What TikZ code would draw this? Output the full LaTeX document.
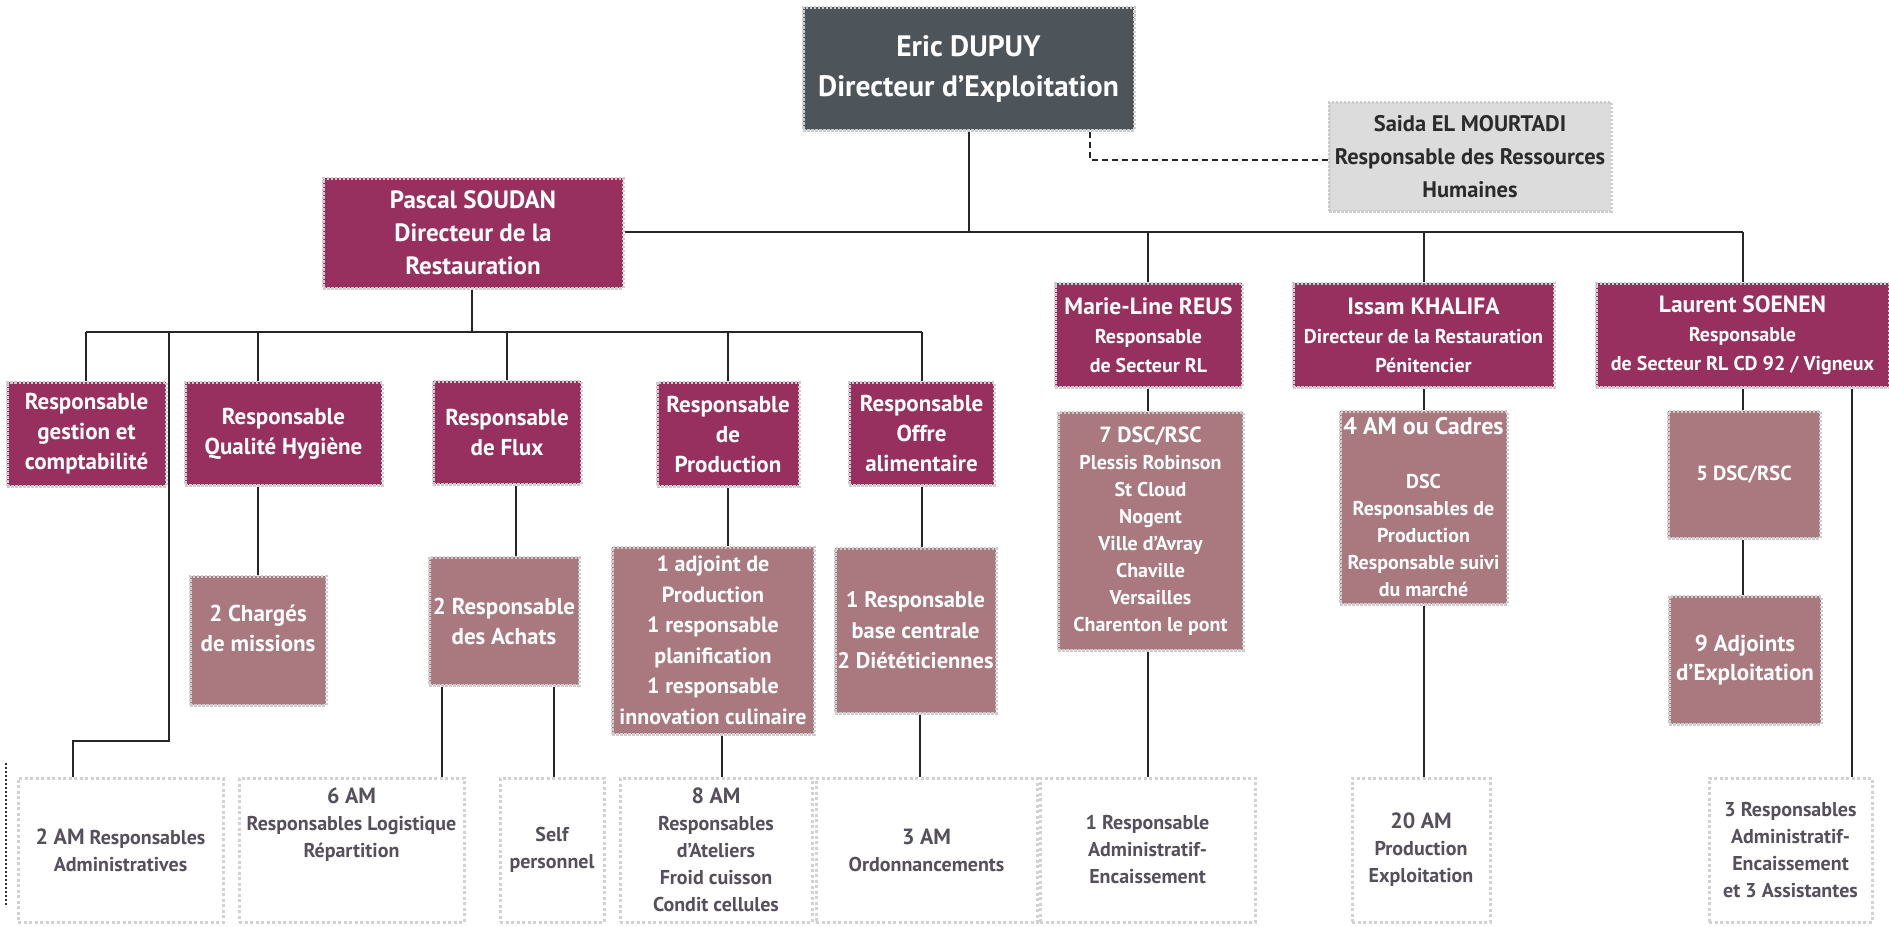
\documentclass[tikz,border=0pt]{standalone}
\usepackage{fontspec}
\setmainfont{PT Sans}
\definecolor{topgray}{HTML}{4D545A}
\definecolor{mag}{HTML}{97305F}
\definecolor{rosec}{HTML}{A9797F}
\definecolor{hrgray}{HTML}{DCDCDC}
\definecolor{hrtext}{HTML}{2B2B2B}
\definecolor{bordergray}{HTML}{CDCDCD}
\definecolor{leafborder}{HTML}{D2D2D2}
\definecolor{leaftext}{HTML}{55505C}
\begin{document}
\begin{tikzpicture}[x=1pt,y=-1pt,
  box/.style={draw=bordergray, line width=3pt, dash pattern=on 2.5pt off 1.5pt, inner sep=0pt, align=center, text=white},
  darkbox/.style={box, fill=topgray},
  magbox/.style={box, fill=mag},
  rosebox/.style={box, fill=rosec},
  palebox/.style={box, fill=hrgray, text=hrtext},
  leafbox/.style={box, fill=white, draw=leafborder, text=leaftext, dash pattern=on 3pt off 2.5pt},
  sz/.style 2 args={minimum width=#1pt, minimum height=#2pt},
  fs/.style 2 args={font=\fontsize{#1}{#2}\selectfont\bfseries},
  conn/.style={draw=black!85, line width=1.5pt},
  dconn/.style={draw=black!85, line width=1.5pt, dash pattern=on 6pt off 4pt},
]
\useasboundingbox (0,0) rectangle (1889,926);

% --- top level
\node[darkbox, sz={331}{123}, fs={29.5}{40}] (eric) at (968.5,68.5) {Eric DUPUY\\Directeur d’Exploitation};
\node[palebox, sz={282}{109}, fs={22.5}{33}] (saida) at (1470,156.5) {Saida EL MOURTADI\\Responsable des Ressources\\Humaines};
\node[magbox, sz={300}{110}, fs={25}{33}] (pascal) at (473,233) {Pascal SOUDAN\\Directeur de la\\Restauration};

% --- right level 2
\node[magbox, sz={187}{104}, fs={20}{29}] (marie) at (1148.5,335) {{\fontsize{23.5}{29}\selectfont Marie-Line REUS}\\Responsable\\de Secteur RL};
\node[magbox, sz={261}{104}, fs={20}{29}] (issam) at (1423.5,335) {{\fontsize{23.5}{29}\selectfont Issam KHALIFA}\\Directeur de la Restauration\\Pénitencier};
\node[magbox, sz={293}{104}, fs={20}{29}] (laurent) at (1742.5,335) {{\fontsize{23.5}{29}\selectfont Laurent SOENEN}\\Responsable\\de Secteur RL CD 92 / Vigneux};

% --- left level 2
\node[magbox, sz={159}{104}, fs={23}{30}] (gestion) at (86.5,434) {Responsable\\gestion et\\comptabilité};
\node[magbox, sz={197}{103}, fs={23}{30}] (qualite) at (283.5,433.5) {Responsable\\Qualité Hygiène};
\node[magbox, sz={148}{103}, fs={23}{30}] (flux) at (507,432.5) {Responsable\\de Flux};
\node[magbox, sz={142}{104}, fs={23}{30}] (prod) at (728,434) {Responsable\\de\\Production};
\node[magbox, sz={145}{103}, fs={23}{30}] (offre) at (921.5,433.5) {Responsable\\Offre\\alimentaire};

% --- left level 3
\node[rosebox, sz={136}{129}, fs={23}{30}] (charges) at (258,640.5) {2 Chargés\\de missions\\[-6pt]\mbox{}};
\node[rosebox, sz={150}{128}, fs={23}{30}] (achats) at (504,621) {2 Responsable\\des Achats};
\node[rosebox, sz={202}{187}, fs={22}{30.5}] (adjoint) at (713,640.5) {1 adjoint de\\Production\\1 responsable\\planification\\1 responsable\\innovation culinaire};
\node[rosebox, sz={161}{165}, fs={22.5}{30.5}] (base) at (915.5,630.5) {1 Responsable\\base centrale\\2 Diététiciennes};

% --- right level 3
\node[rosebox, sz={185}{238}, fs={20}{27}] (dsc7) at (1150.5,531) {{\fontsize{22}{27}\selectfont 7 DSC/RSC}\\Plessis Robinson\\St Cloud\\Nogent\\Ville d’Avray\\Chaville\\Versailles\\Charenton le pont};
\node[rosebox, sz={167}{193}, fs={20}{27}] (am4) at (1423.5,507.5) {{\fontsize{24}{27}\selectfont 4 AM ou Cadres}\\[27pt]DSC\\Responsables de\\Production\\Responsable suivi\\du marché};
\node[rosebox, sz={152}{127}, fs={20.5}{29}] (dsc5) at (1744,474.5) {5 DSC/RSC};
\node[rosebox, sz={152}{128}, fs={23}{29}] (adj9) at (1745,660) {9 Adjoints\\d’Exploitation};

% --- bottom leaves
\node[leafbox, sz={205}{144}, fs={20}{27}] (am2) at (120.5,850) {{\fontsize{22}{27}\selectfont 2 AM} Responsables\\Administratives};
\node[leafbox, sz={225}{144}, fs={20}{27}] (am6) at (351.5,850) {{\fontsize{22}{27}\selectfont 6 AM}\\Responsables Logistique\\Répartition\\[27pt]};
\node[leafbox, sz={104}{144}, fs={20}{27}] (self) at (552,850) {Self\\personnel};
\node[leafbox, sz={192}{144}, fs={20}{27}] (am8) at (716,850) {{\fontsize{22}{27}\selectfont 8 AM}\\Responsables\\d’Ateliers\\Froid cuisson\\Condit cellules};
\node[leafbox, sz={221}{144}, fs={20}{27}] (am3) at (926.5,850) {{\fontsize{22}{27}\selectfont 3 AM}\\Ordonnancements};
\node[leafbox, sz={215}{144}, fs={20}{27}] (resp1) at (1147.5,850) {1 Responsable\\Administratif-\\Encaissement};
\node[leafbox, sz={138}{144}, fs={20}{27}] (am20) at (1421,850) {{\fontsize{22}{27}\selectfont 20 AM}\\Production\\Exploitation};
\node[leafbox, sz={163}{144}, fs={20}{27}] (resp3) at (1790.5,850) {3 Responsables\\Administratif-\\Encaissement\\et 3 Assistantes};

% --- junction coordinates
\coordinate (bus) at (969,232);
\coordinate (busE) at (1743,232);
\coordinate (jM) at (1148,232);
\coordinate (jI) at (1424,232);
\coordinate (hrA) at (1090,160);
\coordinate (sbus) at (472,332);
\coordinate (sbW) at (86,332);
\coordinate (sbE) at (922,332);
\coordinate (jG) at (86,332);
\coordinate (jAdm) at (169,332);
\coordinate (jQ) at (258,332);
\coordinate (jF) at (507,332);
\coordinate (jP) at (728,332);
\coordinate (jO) at (922,332);
\coordinate (kA) at (169,741);
\coordinate (kB) at (73,741);

% --- connectors
\draw[conn] (eric.south -| bus) -- (bus);
\draw[conn] (pascal.east |- bus) -- (busE);
\draw[conn] (jM) -- (jM |- marie.north);
\draw[conn] (jI) -- (jI |- issam.north);
\draw[conn] (busE) -- (busE |- laurent.north);
\draw[dconn] (eric.south -| hrA) -- (hrA) -- (hrA -| saida.west);

\draw[conn] (pascal.south -| sbus) -- (sbus);
\draw[conn] (sbW) -- (sbE);
\draw[conn] (jG) -- (jG |- gestion.north);
\draw[conn] (jQ) -- (jQ |- qualite.north);
\draw[conn] (jF) -- (jF |- flux.north);
\draw[conn] (jP) -- (jP |- prod.north);
\draw[conn] (jO) -- (jO |- offre.north);
\draw[conn] (jAdm) -- (kA) -- (kB) -- (kB |- am2.north);

\draw[conn] (qualite.south -| jQ) -- (jQ |- charges.north);
\coordinate (xF) at (516,0);
\draw[conn] (flux.south -| xF) -- (xF |- achats.north);
\coordinate (xA1) at (442,0);
\coordinate (xA2) at (554,0);
\draw[conn] (achats.south -| xA1) -- (xA1 |- am6.north);
\draw[conn] (achats.south -| xA2) -- (xA2 |- self.north);
\draw[conn] (prod.south) -- (prod.south |- adjoint.north);
\coordinate (xP) at (722,0);
\draw[conn] (adjoint.south -| xP) -- (xP |- am8.north);
\draw[conn] (offre.south -| jO) -- (jO |- base.north);
\coordinate (xO) at (920,0);
\draw[conn] (base.south -| xO) -- (xO |- am3.north);

\draw[conn] (marie.south -| jM) -- (jM |- dsc7.north);
\draw[conn] (dsc7.south -| jM) -- (jM |- resp1.north);
\draw[conn] (issam.south -| jI) -- (jI |- am4.north);
\draw[conn] (am4.south -| jI) -- (jI |- am20.north);
\draw[conn] (laurent.south -| busE) -- (busE |- dsc5.north);
\draw[conn] (dsc5.south -| busE) -- (busE |- adj9.north);
\coordinate (xL) at (1852,0);
\draw[conn] (laurent.south -| xL) -- (xL |- resp3.north);

% stray dotted edge at far left
\draw[draw=black!80, line width=1.5pt, dash pattern=on 2pt off 2pt] (6,763) -- (6,907);
\end{tikzpicture}
\end{document}
